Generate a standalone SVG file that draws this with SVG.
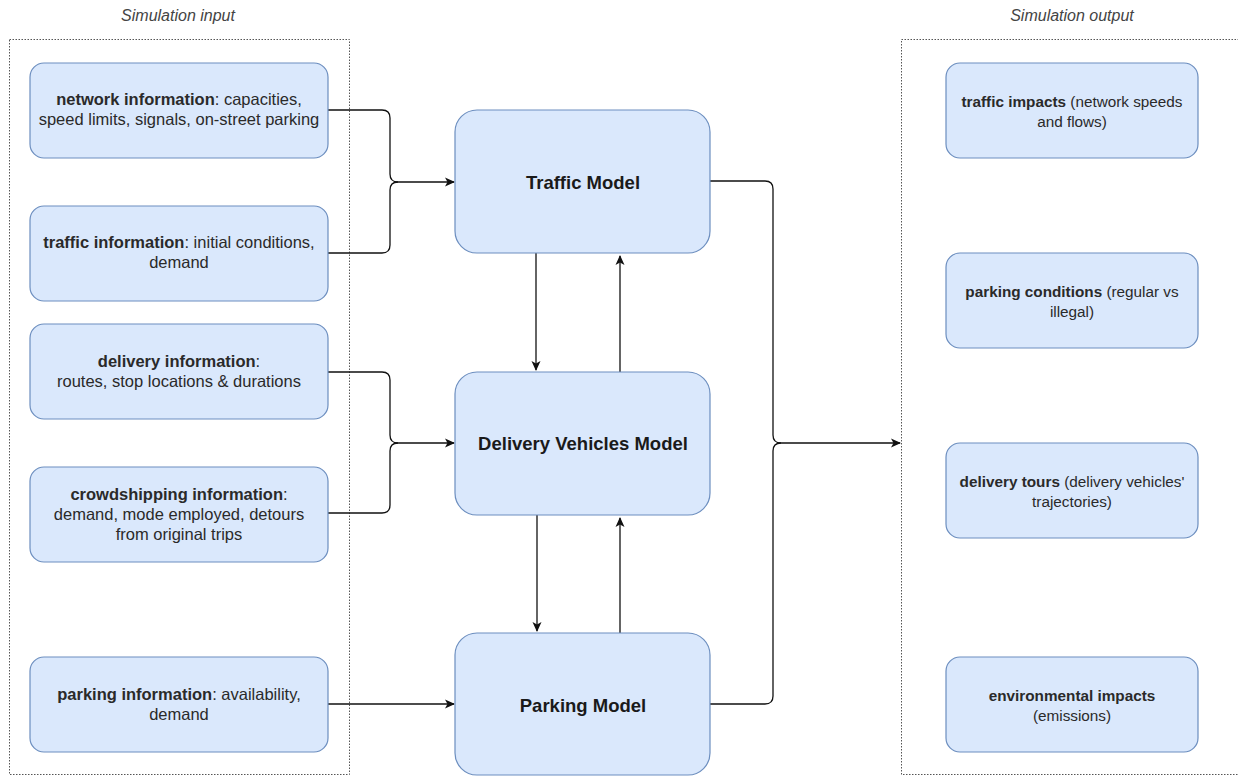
<svg xmlns="http://www.w3.org/2000/svg" width="1238" height="776" viewBox="0 0 1238 776">
<style>
.bg{fill:#ffffff}
.cont{fill:none;stroke:#555;stroke-width:1;stroke-dasharray:1.5 1.5}
.title{font-family:"Liberation Sans",Arial,sans-serif;font-size:16px;font-style:italic;fill:#444;text-anchor:middle}
.box{fill:#dae8fc;stroke:#6c8ebf;stroke-width:1.2}
.t{font-family:"Liberation Sans",Arial,sans-serif;font-size:16.5px;fill:#2a2a2a;text-anchor:middle}
.o{font-family:"Liberation Sans",Arial,sans-serif;font-size:15.3px;fill:#2a2a2a;text-anchor:middle}
.m{font-family:"Liberation Sans",Arial,sans-serif;font-size:18.5px;font-weight:bold;fill:#1a1a1a;text-anchor:middle}
.b{font-weight:bold}
.c{fill:none;stroke:#111;stroke-width:1.3}
</style>
<defs>
<marker id="arr" viewBox="0 0 10 10" refX="9" refY="5" markerWidth="10" markerHeight="10" markerUnits="userSpaceOnUse" orient="auto">
<path d="M0,0.5 L10,5 L0,9.5 L2.5,5 Z" fill="#111"/>
</marker>
</defs>
<rect class="bg" x="0" y="0" width="1238" height="776"/>

<g id="input-container">
<text class="title" x="178" y="21">Simulation input</text>
<rect class="cont" x="9.5" y="39.5" width="340" height="735"/>
</g>
<g id="output-container">
<text class="title" x="1072" y="21">Simulation output</text>
<rect class="cont" x="901.5" y="39.5" width="345" height="735"/>
</g>

<g id="connectors">
<path class="c" d="M328,110 H382 Q390,110 390,118 V174 Q390,182 398,182"/>
<path class="c" d="M328,253 H382 Q390,253 390,245 V190 Q390,182 398,182 H454" marker-end="url(#arr)"/>
<path class="c" d="M328,372 H382 Q390,372 390,380 V435 Q390,443 398,443"/>
<path class="c" d="M328,513 H382 Q390,513 390,505 V451 Q390,443 398,443 H454" marker-end="url(#arr)"/>
<path class="c" d="M328,704 H454" marker-end="url(#arr)"/>
<path class="c" d="M536,253 V370" marker-end="url(#arr)"/>
<path class="c" d="M620,372 V256" marker-end="url(#arr)"/>
<path class="c" d="M537,515 V631" marker-end="url(#arr)"/>
<path class="c" d="M620,633 V518" marker-end="url(#arr)"/>
<path class="c" d="M710,181 H765 Q773,181 773,189 V435 Q773,443 781,443"/>
<path class="c" d="M710,704 H765 Q773,704 773,696 V451 Q773,443 781,443 H900" marker-end="url(#arr)"/>
</g>

<g id="network-info">
<rect class="box" x="30" y="63" width="298" height="95" rx="14"/>
<text class="t" x="179" y="105"><tspan class="b">network information</tspan>: capacities,</text>
<text class="t" x="179" y="125">speed limits, signals, on-street parking</text>
</g>
<g id="traffic-info">
<rect class="box" x="30" y="206" width="298" height="95" rx="14"/>
<text class="t" x="179" y="248"><tspan class="b">traffic information</tspan>: initial conditions,</text>
<text class="t" x="179" y="268">demand</text>
</g>
<g id="delivery-info">
<rect class="box" x="30" y="324" width="298" height="95" rx="14"/>
<text class="t" x="179" y="367"><tspan class="b">delivery information</tspan>:</text>
<text class="t" x="179" y="387">routes, stop locations &amp; durations</text>
</g>
<g id="crowdshipping-info">
<rect class="box" x="30" y="467" width="298" height="95" rx="14"/>
<text class="t" x="179" y="500"><tspan class="b">crowdshipping information</tspan>:</text>
<text class="t" x="179" y="520">demand, mode employed, detours</text>
<text class="t" x="179" y="540">from original trips</text>
</g>
<g id="parking-info">
<rect class="box" x="30" y="657" width="298" height="95" rx="14"/>
<text class="t" x="179" y="700"><tspan class="b">parking information</tspan>: availability,</text>
<text class="t" x="179" y="720">demand</text>
</g>

<g id="traffic-model">
<rect class="box" x="455" y="110" width="255" height="143" rx="22"/>
<text class="m" x="583" y="189">Traffic Model</text>
</g>
<g id="delivery-model">
<rect class="box" x="455" y="372" width="255" height="143" rx="22"/>
<text class="m" x="583" y="450">Delivery Vehicles Model</text>
</g>
<g id="parking-model">
<rect class="box" x="455" y="633" width="255" height="142" rx="22"/>
<text class="m" x="583" y="712">Parking Model</text>
</g>

<g id="traffic-impacts">
<rect class="box" x="946" y="63" width="252" height="95" rx="14"/>
<text class="o" x="1072" y="107"><tspan class="b">traffic impacts</tspan> (network speeds</text>
<text class="o" x="1072" y="127">and flows)</text>
</g>
<g id="parking-conditions">
<rect class="box" x="946" y="253" width="252" height="95" rx="14"/>
<text class="o" x="1072" y="297"><tspan class="b">parking conditions</tspan> (regular vs</text>
<text class="o" x="1072" y="317">illegal)</text>
</g>
<g id="delivery-tours">
<rect class="box" x="946" y="443" width="252" height="95" rx="14"/>
<text class="o" x="1072" y="487"><tspan class="b">delivery tours</tspan> (delivery vehicles'</text>
<text class="o" x="1072" y="507">trajectories)</text>
</g>
<g id="environmental-impacts">
<rect class="box" x="946" y="657" width="252" height="95" rx="14"/>
<text class="o" x="1072" y="701"><tspan class="b">environmental impacts</tspan></text>
<text class="o" x="1072" y="721">(emissions)</text>
</g>
</svg>
